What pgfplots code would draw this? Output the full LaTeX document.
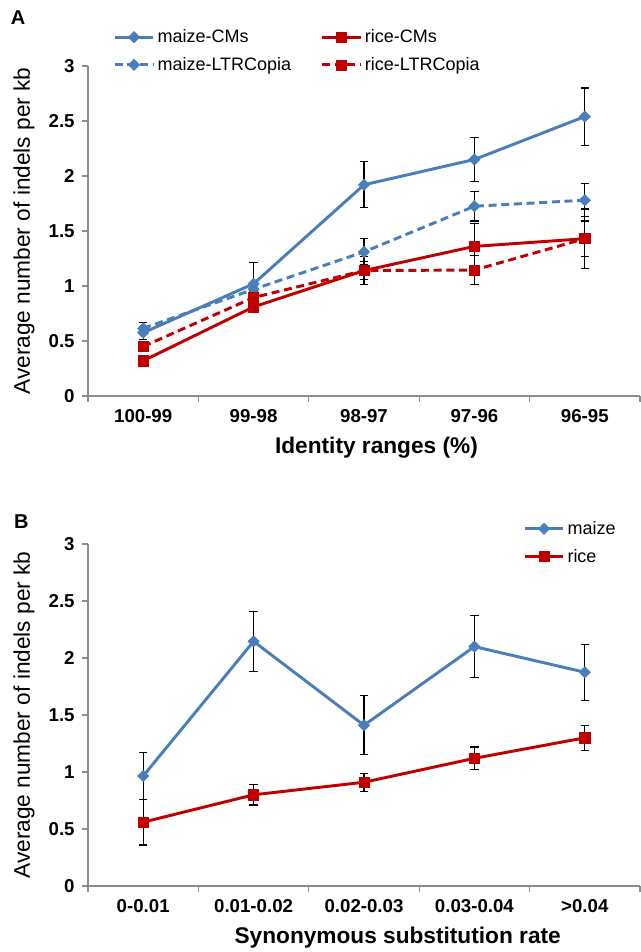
\documentclass[border=0pt]{standalone}
\usepackage{fontspec}
\setmainfont{Liberation Sans}
\usepackage{pgfplots}
\pgfplotsset{compat=1.18}
\definecolor{mzblue}{HTML}{4A7EBB}
\definecolor{rcred}{HTML}{C00000}
\definecolor{axgray}{HTML}{8C8C8C}
\pgfplotsset{
  panel/.style={
    scale only axis, width=414pt, clip=false,
    xmin=-0.5, xmax=4.5, ymin=0, ymax=3,
    axis x line=bottom, axis y line=left,
    axis line style={-, draw=axgray, line width=0.8pt},
    tick align=outside, major tick length=4.5pt,
    tick style={draw=axgray, line width=0.8pt},
    xtick={-0.5,0.5,...,4.5}, x tick label as interval,
    ytick={0,0.5,...,3},
    /pgf/number format/assume math mode=true,
    tick label style={font=\fontsize{14}{16}\selectfont\bfseries, text=black},
    yticklabel style={xshift=-2pt},
    xticklabel style={yshift=-2pt},
    ylabel={Average number of indels per kb},
    ylabel style={font=\fontsize{17}{20}\selectfont, at={(axis description cs:-0.116,0.5)}, anchor=center},
    xlabel style={font=\fontsize{17}{20}\selectfont\bfseries, anchor=center},
    legend style={draw=none, fill=none, inner sep=0pt, row sep=5.5pt, font=\fontsize{13.5}{16}\selectfont,
      cells={anchor=west}, /tikz/every even column/.append style={column sep=20pt}},
    legend image code/.code={\draw[mark repeat=2,mark phase=2] plot coordinates {(0pt,0pt) (14.5pt,0pt) (29pt,0pt)};},
    error bars/y dir=both, error bars/y explicit,
    error bars/error bar style={black, line width=0.9pt, solid},
    error bars/error mark options={black, rotate=90, mark size=3.2pt, line width=0.9pt, solid},
  },
  mz/.style={mzblue, line width=2.2pt, mark=square*, mark size=3pt,
    mark options={rotate=45, solid, fill=mzblue, draw=mzblue, line width=0.4pt}},
  rc/.style={rcred, line width=2.2pt, mark=square*, mark size=3.8pt,
    mark options={solid, fill=rcred, draw=rcred, line width=0.4pt}},
  dsh/.style={dash pattern=on 6pt off 3.5pt},
}
\begin{document}
\begin{tikzpicture}
\useasboundingbox (0,0) rectangle (480.75pt,714pt);
\node[font=\fontsize{15}{18}\selectfont\bfseries] at (13.5pt,700.5pt) {A};
\node[font=\fontsize{15}{18}\selectfont\bfseries] at (16pt,322.5pt) {B};

% panel A: identity ranges
\begin{axis}[panel, at={(66pt,417pt)}, anchor=south west, height=247.5pt,
  xticklabels={100-99,99-98,98-97,97-96,96-95},
  xlabel={Identity ranges (\%)},
  xlabel style={at={(axis description cs:0.5226,-0.158)}},
  legend columns=2,
  legend style={at={(0.0453,1.119)}, anchor=north west}]
\addplot[mz] coordinates {(0,0.575) +- (0,0.06) (1,1.02) +- (0,0.19) (2,1.92) +- (0,0.21) (3,2.15) +- (0,0.20) (4,2.54) +- (0,0.26)};
\addlegendentry{maize-CMs}
\addplot[rc] coordinates {(0,0.32) +- (0,0.05) (1,0.81) +- (0,0.05) (2,1.14) +- (0,0.08) (3,1.36) +- (0,0.21) (4,1.43) +- (0,0.27)};
\addlegendentry{rice-CMs}
\addplot[mz,dsh] coordinates {(0,0.615) +- (0,0.05) (1,0.97) +- (0,0.05) (2,1.31) +- (0,0.12) (3,1.725) +- (0,0.135) (4,1.78) +- (0,0.15)};
\addlegendentry{maize-LTRCopia}
\addplot[rc,dsh] coordinates {(0,0.45) +- (0,0.04) (1,0.895) +- (0,0.05) (2,1.14) +- (0,0.13) (3,1.145) +- (0,0.13) (4,1.43) +- (0,0.16)};
\addlegendentry{rice-LTRCopia}
\end{axis}

% panel B: synonymous substitution rate
\begin{axis}[panel, at={(66pt,49.5pt)}, anchor=south west, height=256.5pt,
  xticklabels={0-0.01,0.01-0.02,0.02-0.03,0.03-0.04,>0.04},
  xlabel={Synonymous substitution rate},
  xlabel style={at={(axis description cs:0.561,-0.152)}},
  legend style={at={(0.788,1.075)}, anchor=north west}]
\addplot[mz] coordinates {(0,0.965) +- (0,0.205) (1,2.146) +- (0,0.265) (2,1.41) +- (0,0.26) (3,2.10) +- (0,0.27) (4,1.875) +- (0,0.245)};
\addlegendentry{maize}
\addplot[rc] coordinates {(0,0.56) +- (0,0.20) (1,0.80) +- (0,0.09) (2,0.91) +- (0,0.08) (3,1.12) +- (0,0.10) (4,1.30) +- (0,0.11)};
\addlegendentry{rice}
\end{axis}
\end{tikzpicture}
\end{document}
